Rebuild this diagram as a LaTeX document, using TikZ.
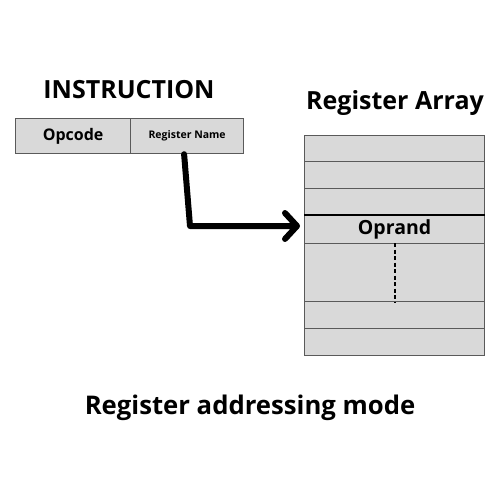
\documentclass[tikz,border=0pt]{standalone}
\usepackage{fontspec}
\setmainfont{Open Sans}
\usetikzlibrary{arrows.meta}
\definecolor{cellgray}{HTML}{D9D9D9}
\definecolor{edgegray}{HTML}{5A5A5A}
\begin{document}
\begin{tikzpicture}[x=1pt,y=-1pt,
  cell/.style={draw=edgegray, fill=cellgray, line width=1.2pt, inner sep=0pt, anchor=north west, minimum height=#1},
  instrcell/.style={cell=35pt, minimum width=#1},
  regcell/.style={cell=#1, minimum width=180pt},
  title/.style={font=\bfseries\fontsize{25}{28}\selectfont, inner sep=0pt}]
\useasboundingbox[fill=white] (0,0) rectangle (500,500);
% instruction
\node[title] (ititle) at (129,90) {INSTRUCTION};
\node[instrcell=115pt] (opc) at (15,118) {};
\node[font=\bfseries\fontsize{16}{18}\selectfont] at (opc.center) {Opcode};
\node[instrcell=113pt] (reg) at (130,118) {};
\node[font=\bfseries\fontsize{10.5}{12}\selectfont] at (reg.center) {Register Name};
% register array
\node[title] (rtitle) at (395,103) {Register Array};
\node[regcell=26pt] (r1) at (304,135) {};
\node[regcell=27pt] (r2) at (304,161) {};
\node[regcell=27pt] (r3) at (304,188) {};
\node[regcell=28pt] (r4) at (304,215) {};
\node[regcell=58pt] (r5) at (304,243) {};
\node[regcell=27pt] (r6) at (304,301) {};
\node[regcell=27pt] (r7) at (304,328) {};
\node[font=\bfseries\fontsize{19.5}{22}\selectfont] at (r4.center) {Oprand};
\draw[line width=2pt] (r4.north west) -- (r4.north east);
\draw[line width=1.8pt, dash pattern=on 4pt off 2.5pt] (r5.north) -- (r5.south);
% arrow
\coordinate (bend) at (190,226);
\draw[line width=6pt, line cap=round, line join=round,
  -{Straight Barb[length=12pt,width=26pt,round]}, shorten >=4pt]
  ([xshift=-3pt]reg.south) -- (bend) -- (bend -| r4.west);
% caption
\node[title, font=\bfseries\fontsize{25.7}{28}\selectfont] (cap) at (250,408) {Register addressing mode};
\end{tikzpicture}
\end{document}
